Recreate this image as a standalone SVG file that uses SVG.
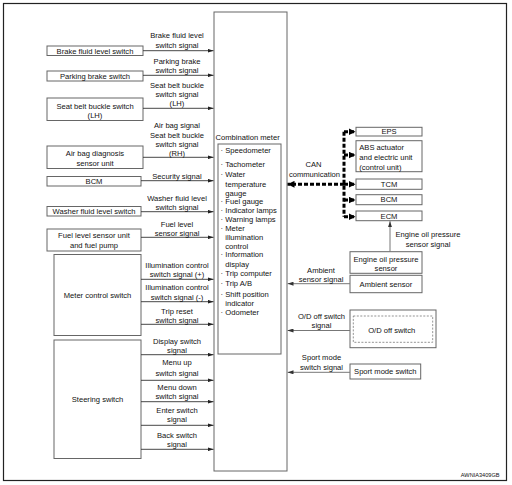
<svg xmlns="http://www.w3.org/2000/svg" width="512" height="485" viewBox="0 0 512 485">
<defs>
<marker id="ah" viewBox="0 0 6 4" refX="6" refY="2" markerWidth="6" markerHeight="4" markerUnits="userSpaceOnUse" orient="auto"><path d="M0,0 L6,2 L0,4 Z" fill="#222"/></marker>
<marker id="ag" viewBox="0 0 6 4" refX="6" refY="2" markerWidth="6" markerHeight="4" markerUnits="userSpaceOnUse" orient="auto"><path d="M0,0 L6,2 L0,4 Z" fill="#333"/></marker>
<marker id="ab" viewBox="0 0 7 7" refX="7" refY="3.5" markerWidth="7" markerHeight="7" markerUnits="userSpaceOnUse" orient="auto"><path d="M0,0 L7,3.5 L0,7 Z" fill="#000"/></marker>
</defs>
<style>
text{font-family:"Liberation Sans",Arial,sans-serif;font-size:7.6px;fill:#111}
.m{text-anchor:middle}
.box{fill:#fff;stroke:#666;stroke-width:1}
.sig{stroke:#333;stroke-width:0.9;fill:none;marker-end:url(#ah)}
.sigr{stroke:#777;stroke-width:1;fill:none;marker-end:url(#ag)}
.can{stroke:#000;stroke-width:3;stroke-dasharray:4 2;fill:none}
.canb{stroke:#000;stroke-width:3;stroke-dasharray:4 2;fill:none;marker-end:url(#ab)}
</style>
<rect width="512" height="485" fill="#fff"/>
<rect x="3.5" y="3.5" width="503" height="477" fill="none" stroke="#222" stroke-width="1.2"/>

<g id="combination-meter">
<rect class="box" x="214" y="12" width="73" height="459"/>
<text x="215.5" y="139.7">Combination meter</text>
<rect class="box" x="218" y="144" width="63" height="210"/>
<text x="220.5" y="153.4">·</text><text x="225.3" y="153.4">Speedometer</text>
<text x="220.5" y="166.7">·</text><text x="225.3" y="166.7">Tachometer</text>
<text x="220.5" y="177">·</text><text x="225.3" y="177">Water</text>
<text x="225.3" y="186.7">temperature</text>
<text x="225.3" y="196.4">gauge</text>
<text x="220.5" y="204.4">·</text><text x="225.3" y="204.4">Fuel gauge</text>
<text x="220.5" y="213.4">·</text><text x="225.3" y="213.4">Indicator lamps</text>
<text x="220.5" y="222">·</text><text x="225.3" y="222">Warning lamps</text>
<text x="220.5" y="230.7">·</text><text x="225.3" y="230.7">Meter</text>
<text x="225.3" y="239.7">illumination</text>
<text x="225.3" y="249">control</text>
<text x="220.5" y="257.4">·</text><text x="225.3" y="257.4">Information</text>
<text x="225.3" y="266.7">display</text>
<text x="220.5" y="276">·</text><text x="225.3" y="276">Trip computer</text>
<text x="220.5" y="286">·</text><text x="225.3" y="286">Trip A/B</text>
<text x="220.5" y="297.4">·</text><text x="225.3" y="297.4">Shift position</text>
<text x="225.3" y="306.4">indicator</text>
<text x="220.5" y="315">·</text><text x="225.3" y="315">Odometer</text>
</g>

<g id="brake-fluid-level-switch"><rect class="box" x="47" y="46" width="96" height="9.5"/><text class="m" x="95" y="53.6">Brake fluid level switch</text></g>
<g id="parking-brake-switch"><rect class="box" x="47" y="71" width="96" height="10"/><text class="m" x="95" y="78.6">Parking brake switch</text></g>
<g id="seat-belt-lh"><rect class="box" x="47" y="98" width="96" height="22.5"/><text class="m" x="95" y="108.7">Seat belt buckle switch</text><text class="m" x="95" y="118.4">(LH)</text></g>
<g id="air-bag-unit"><rect class="box" x="47" y="146" width="96" height="22.5"/><text class="m" x="95" y="156">Air bag diagnosis</text><text class="m" x="95" y="166">sensor unit</text></g>
<g id="bcm-left"><rect class="box" x="47" y="176.5" width="94" height="9.5"/><text class="m" x="94" y="184">BCM</text></g>
<g id="washer-fluid-level-switch"><rect class="box" x="47" y="206.5" width="94" height="9.5"/><text class="m" x="94" y="214">Washer fluid level switch</text></g>
<g id="fuel-level-sensor"><rect class="box" x="47" y="229" width="94" height="22"/><text class="m" x="94" y="238.4">Fuel level sensor unit</text><text class="m" x="94" y="247.7">and fuel pump</text></g>
<g id="meter-control-switch"><rect class="box" x="54" y="254.5" width="87" height="81"/><text class="m" x="97.5" y="297.7">Meter control switch</text></g>
<g id="steering-switch"><rect class="box" x="54" y="340" width="87" height="118.5"/><text class="m" x="97.5" y="402">Steering switch</text></g>

<g id="eps"><rect class="box" x="356" y="127.3" width="66" height="8.7"/><text class="m" x="389" y="134.4">EPS</text></g>
<g id="abs"><rect class="box" x="356" y="140.7" width="66" height="31"/><text x="359.3" y="150">ABS actuator</text><text x="359.3" y="160.4">and electric unit</text><text x="359.3" y="170.4">(control unit)</text></g>
<g id="tcm"><rect class="box" x="356" y="179" width="66" height="10.3"/><text class="m" x="389" y="186.8">TCM</text></g>
<g id="bcm-right"><rect class="box" x="356" y="194.7" width="66" height="10"/><text class="m" x="389" y="202.4">BCM</text></g>
<g id="ecm"><rect class="box" x="356" y="211" width="66" height="9.7"/><text class="m" x="389" y="218.5">ECM</text></g>
<g id="engine-oil-pressure-sensor"><rect class="box" x="350" y="251.7" width="72" height="21.6"/><text class="m" x="386" y="261.7">Engine oil pressure</text><text class="m" x="386" y="271">sensor</text></g>
<g id="ambient-sensor"><rect class="box" x="350" y="275.3" width="72" height="17.4"/><text class="m" x="386" y="286.7">Ambient sensor</text></g>
<g id="od-off-switch"><rect class="box" x="350" y="310" width="86" height="37.7"/><rect x="353.3" y="316" width="79.4" height="26.3" fill="none" stroke="#777" stroke-width="0.8" stroke-dasharray="2 1.5"/><text class="m" x="391.7" y="333">O/D off switch</text></g>
<g id="sport-mode-switch"><rect class="box" x="350" y="364" width="70.7" height="15"/><text class="m" x="385.3" y="374.2">Sport mode switch</text></g>

<g id="connectors">
<path class="sig" d="M143,50.7 H213.5"/>
<path class="sig" d="M143,75.3 H213.5"/>
<path class="sig" d="M143,108.3 H213.5"/>
<path class="sig" d="M143,157.3 H213.5"/>
<path class="sig" d="M141,180.7 H213.5"/>
<path class="sig" d="M141,211.7 H213.5"/>
<path class="sig" d="M141,237.3 H213.5"/>
<path class="sig" d="M141,279.3 H213.5"/>
<path class="sig" d="M141,301.7 H213.5"/>
<path class="sig" d="M141,324.3 H213.5"/>
<path class="sig" d="M141,354.7 H213.5"/>
<path class="sig" d="M141,380.3 H213.5"/>
<path class="sig" d="M141,401.7 H213.5"/>
<path class="sig" d="M141,425.3 H213.5"/>
<path class="sig" d="M141,449.3 H213.5"/>

<path class="sigr" d="M350,283.7 H287.5"/>
<path class="sigr" d="M350,330.5 H287.5"/>
<path class="sigr" d="M350,372.3 H287.5"/>
<path class="sigr" d="M390,251.7 V221.2"/>

<path class="can" d="M344,131.7 V216.7"/>
<path class="canb" d="M344,131.7 H355.5"/>
<path class="canb" d="M344,155 H355.5"/>
<path class="canb" d="M344,184.3 H355.5"/>
<path class="canb" d="M344,200 H355.5"/>
<path class="canb" d="M344,216.7 H355.5"/>
<path class="canb" d="M344,184.3 H287.5"/>
</g>

<g id="labels">
<text class="m" x="177" y="38">Brake fluid level</text><text class="m" x="177" y="48.4">switch signal</text>
<text class="m" x="177" y="64.4">Parking brake</text><text class="m" x="177" y="73.4">switch signal</text>
<text class="m" x="177" y="88">Seat belt buckle</text><text class="m" x="177" y="97.4">switch signal</text><text class="m" x="177" y="106.4">(LH)</text>
<text class="m" x="177" y="128.4">Air bag signal</text><text class="m" x="177" y="137.7">Seat belt buckle</text><text class="m" x="177" y="147.4">switch signal</text><text class="m" x="177" y="156.2">(RH)</text>
<text class="m" x="177" y="178.6">Security signal</text>
<text class="m" x="177" y="201">Washer fluid level</text><text class="m" x="177" y="210.3">switch signal</text>
<text class="m" x="177" y="227">Fuel level</text><text class="m" x="177" y="236">sensor signal</text>
<text class="m" x="177" y="267.7">Illumination control</text><text class="m" x="177" y="277">switch signal (+)</text>
<text class="m" x="177" y="290.4">Illumination control</text><text class="m" x="177" y="299.7">switch signal (-)</text>
<text class="m" x="177" y="313.7">Trip reset</text><text class="m" x="177" y="323">switch signal</text>
<text class="m" x="177" y="344.4">Display switch</text><text class="m" x="177" y="353.4">signal</text>
<text class="m" x="177" y="365">Menu up</text><text class="m" x="177" y="376.4">switch signal</text>
<text class="m" x="177" y="390">Menu down</text><text class="m" x="177" y="399.4">switch signal</text>
<text class="m" x="177" y="413">Enter switch</text><text class="m" x="177" y="422.4">signal</text>
<text class="m" x="177" y="437.7">Back switch</text><text class="m" x="177" y="446.7">signal</text>

<text class="m" x="313.5" y="166.7">CAN</text><text class="m" x="314.5" y="177">communication</text>
<text class="m" x="428" y="236.7">Engine oil pressure</text><text class="m" x="428" y="246.7">sensor signal</text>
<text class="m" x="321" y="273">Ambient</text><text class="m" x="321" y="282">sensor signal</text>
<text class="m" x="321.5" y="319">O/D off switch</text><text class="m" x="321.5" y="328.2">signal</text>
<text class="m" x="321.5" y="360.4">Sport mode</text><text class="m" x="321.5" y="370">switch signal</text>
<text x="499.5" y="477.3" style="font-size:5.6px;text-anchor:end">AWNIA3409GB</text>
</g>
</svg>
